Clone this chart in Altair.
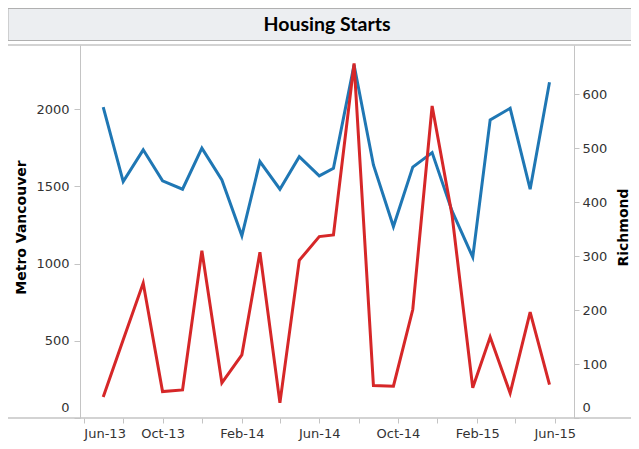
import altair as alt
import pandas as pd

# ---- data ----
dates = ["2013-07-01", "2013-08-01", "2013-09-01", "2013-10-01", "2013-11-01", "2013-12-01",
         "2014-01-01", "2014-02-01", "2014-03-01", "2014-04-01", "2014-05-01", "2014-06-01",
         "2014-06-23", "2014-07-25", "2014-08-24", "2014-09-24", "2014-10-24", "2014-11-23",
         "2014-12-24", "2015-01-25", "2015-02-21", "2015-03-24", "2015-04-24", "2015-05-24"]
metro_vancouver = [2013, 1531, 1737, 1536, 1482, 1748, 1542, 1180, 1661, 1482, 1693, 1568,
                   1618, 2287, 1639, 1240, 1625, 1719, 1340, 1042, 1931, 2006, 1482, 2175]
richmond = [39, 145, 250, 49, 52, 310, 65, 117, 307, 28, 292, 336,
            339, 657, 60, 59, 201, 578, 375, 56, 150, 46, 196, 62]
x_ticks = ["2013-06-01", "2013-08-01", "2013-10-01", "2013-12-01", "2014-02-01", "2014-04-01",
           "2014-06-01", "2014-08-01", "2014-10-01", "2014-12-01", "2015-02-01", "2015-04-01",
           "2015-06-01"]
x_domain = ["2013-05-26", "2015-07-01"]
left_ticks = [0, 500, 1000, 1500, 2000]
right_ticks = [0, 100, 200, 300, 400, 500, 600]
title_text = "Housing Starts"


def ms(s):
    return int(pd.Timestamp(s, tz="UTC").value // 10**6)


df = pd.DataFrame({"date": dates, "metro": metro_vancouver, "rich": richmond})
deco = pd.DataFrame({"label": [title_text]})

FONT = "DejaVu Sans"
LABEL_C = "#333333"
AXIS_C = "#c4c4c4"
W, H = 494, 373

x_enc = alt.X(
    "date:T",
    scale=alt.Scale(type="utc", domain=[ms(x_domain[0]), ms(x_domain[1])], nice=False),
    axis=alt.Axis(
        title=None, values=[ms(t) for t in x_ticks], grid=False, domain=False,
        labelExpr="utcmonth(datum.value) % 4 == 1 ? utcFormat(datum.value, '%b-%y') : ''",
        labelFont=FONT, labelFontSize=13, labelColor=LABEL_C,
        labelFlush=6,
        labelPadding=4, tickSize=5, tickColor=AXIS_C, labelOverlap=False,
    ),
)

blue = alt.Chart(df).mark_line(color="#1f77b4", strokeWidth=3).encode(
    x=x_enc,
    y=alt.Y("metro:Q",
            scale=alt.Scale(domain=[0, 2416], nice=False),
            axis=alt.Axis(title="Metro Vancouver", values=left_ticks, format="d", grid=False,
                          orient="left", domainColor=AXIS_C, tickColor=AXIS_C, tickSize=6,
                          labelFont=FONT, labelFontSize=13, labelColor=LABEL_C, labelPadding=5,
                          labelFlush=True, labelFlushOffset=-4,
                          titleFont=FONT, titleFontSize=14, titleFontWeight="bold",
                          titleColor="#000000", titlePadding=7, titleY=182)),
)

red = alt.Chart(df).mark_line(color="#d62728", strokeWidth=3).encode(
    x=x_enc,
    y=alt.Y("rich:Q",
            scale=alt.Scale(domain=[0, 691], nice=False),
            axis=alt.Axis(title="Richmond", values=right_ticks, format="d", grid=False,
                          orient="right", domainColor=AXIS_C, tickColor=AXIS_C, tickSize=5,
                          labelFont=FONT, labelFontSize=13, labelColor=LABEL_C, labelPadding=3,
                          labelFlush=True, labelFlushOffset=-4,
                          titleFont=FONT, titleFontSize=14, titleFontWeight="bold",
                          titleColor="#000000", titlePadding=24, titleAngle=270, titleY=182)),
)

box = alt.Chart(deco).mark_rect(fill="#eceef1", stroke="#b0b0b0", strokeWidth=1).encode(
    x=alt.value(-72), x2=alt.value(565), y=alt.value(-36.5), y2=alt.value(-4.5)
)
top_rule = alt.Chart(deco).mark_rule(color=AXIS_C, strokeWidth=1.5).encode(
    x=alt.value(-72), x2=alt.value(565), y=alt.value(0)
)
bottom_rule = alt.Chart(deco).mark_rule(color=AXIS_C, strokeWidth=1.5).encode(
    x=alt.value(-72), x2=alt.value(565), y=alt.value(H)
)
title = alt.Chart(deco).mark_text(font="Lato", fontSize=19.5, fontWeight="bold",
                                  color="#000000", baseline="middle", align="center").encode(
    x=alt.value(247), y=alt.value(-20.5), text="label:N"
)

chart = alt.layer(box, top_rule, bottom_rule, blue, red, title).resolve_scale(
    y="independent"
).properties(
    width=W, height=H,
    autosize=alt.AutoSizeParams(type="none"),
    padding={"left": 72, "top": 37, "right": 57, "bottom": 23},
).configure_view(stroke=None)

chart.save("out.html", embed_options={"renderer": "svg", "actions": False})
